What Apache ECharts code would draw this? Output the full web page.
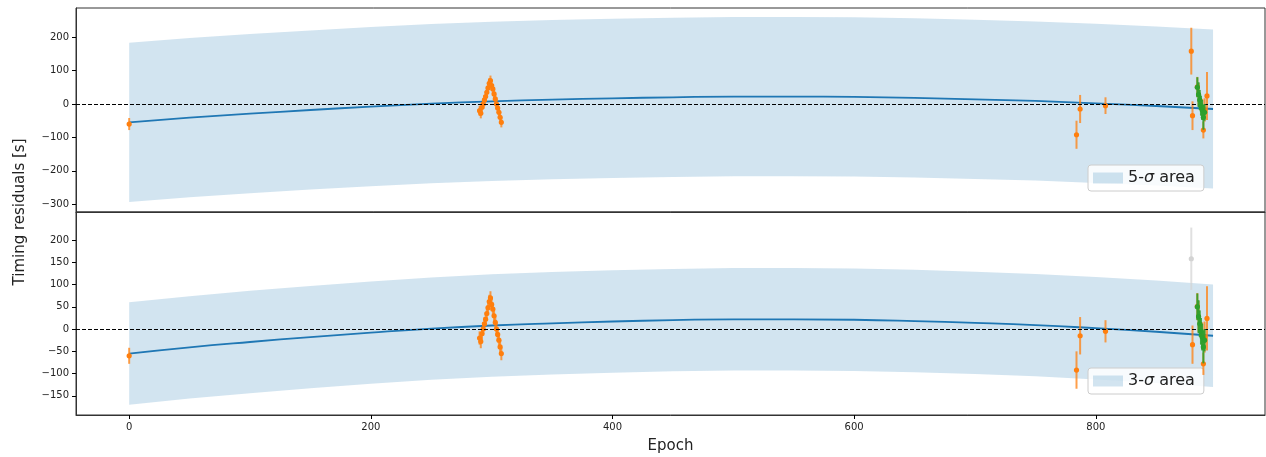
<!DOCTYPE html>
<html>
<head>
<meta charset="utf-8">
<script src="https://cdn.jsdelivr.net/npm/echarts@6/dist/echarts.min.js"></script>
<style>
  html, body { margin: 0; padding: 0; background: #fff; }
  #chart { width: 1266px; height: 457px; }
</style>
</head>
<body>
<div id="chart"></div>
<script>
// model curve + shaded bands
const modelEpochs = [0, 50, 100, 150, 200, 250, 300, 350, 400, 450, 500, 550, 600, 650, 700, 750, 800, 850, 897];
const modelRes = [-55, -41, -29, -18, -8, 1, 8, 13, 17, 20, 22, 22, 21, 18, 14, 9, 2, -6, -15];
const upper5 = [183, 197, 209, 220, 230, 239, 246, 251, 255, 258, 260, 260, 259, 256, 252, 247, 240, 232, 223];
const lower5 = [-293, -279, -267, -256, -246, -237, -230, -225, -221, -218, -216, -216, -217, -220, -224, -229, -236, -244, -253];
const upper3 = [60, 74, 86, 97, 107, 116, 123, 128, 132, 135, 137, 137, 136, 133, 129, 124, 117, 109, 100];
const lower3 = [-170, -156, -144, -133, -123, -114, -107, -102, -98, -95, -93, -93, -94, -97, -101, -106, -113, -121, -130];

// observed transits (orange)
const obsEpochs = [0, 290, 291, 292, 293, 294, 295, 296, 297, 298, 299, 300, 301, 302, 303, 304, 305, 306, 307, 308, 784, 787, 808, 880, 884, 885, 888, 889, 890, 892];
const obsRes = [-60, -20, -28, -10, 0, 12, 22, 35, 48, 62, 70, 55, 45, 30, 15, 0, -12, -25, -40, -55, -92, -15, -5, -35, 51, 28, -15, -78, -18, 24];
const obsErr = [18, 15, 15, 15, 15, 15, 15, 15, 15, 15, 15, 15, 15, 15, 15, 15, 15, 15, 15, 15, 42, 42, 25, 43, 30, 35, 30, 25, 35, 72];

// outlier (orange on top, grey below)
const outEpochs = [879];
const outRes = [158];
const outErr = [70];

// second data set (green)
const greenEpochs = [884, 885, 886, 887, 888, 889, 890];
const greenRes = [50, 28, 12, -5, -18, -40, -25];
const greenErr = [30, 37, 30, 30, 30, 37, 25];

const xTicks = [0, 200, 400, 600, 800];
const yTicksTop = [-300, -200, -100, 0, 100, 200];
const yTicksBottom = [-150, -100, -50, 0, 50, 100, 150, 200];

const FONT = 'DejaVu Sans';
const BAND = 'rgba(31,119,180,0.2)';
const ORANGE = '#ff7f0e';
const GREEN = '#2ca02c';
const BLUE = '#1f77b4';

const zip = (a, b, c) => a.map((v, i) => c ? [v, b[i], c[i]] : [v, b[i]]);
const minus = v => (v < 0 ? '\u2212' + (-v) : String(v));

function errBars(color, barOpacity) {
  return function (params, api) {
    const x = api.value(0), y = api.value(1), e = api.value(2);
    const hi = api.coord([x, y + e]);
    const lo = api.coord([x, y - e]);
    const mid = api.coord([x, y]);
    return {
      type: 'group',
      children: [
        {type: 'line', shape: {x1: hi[0], y1: hi[1], x2: lo[0], y2: lo[1]},
          style: {stroke: color, lineWidth: 2, opacity: barOpacity}},
        {type: 'circle', shape: {cx: mid[0], cy: mid[1], r: 2.6}, style: {fill: color}}
      ]
    };
  };
}

function band(upper, lower) {
  return function (params, api) {
    const pts = [];
    modelEpochs.forEach((e, i) => pts.push(api.coord([e, upper[i]])));
    for (let i = modelEpochs.length - 1; i >= 0; i--) pts.push(api.coord([modelEpochs[i], lower[i]]));
    return {type: 'polygon', shape: {points: pts}, style: {fill: BAND}};
  };
}

function xAxis(idx, labels) {
  return {
    type: 'value', gridIndex: idx, min: -44, max: 940,
    splitLine: {show: false},
    axisLine: {show: true, onZero: false, lineStyle: {color: '#333'}},
    axisTick: {show: labels, inside: false, length: 4, customValues: xTicks, lineStyle: {color: '#000', width: 1}},
    axisLabel: {show: labels, customValues: xTicks, margin: 7, fontFamily: FONT, fontSize: 10, color: '#222'},
    name: labels ? 'Epoch' : '',
    nameLocation: 'middle', nameGap: 24,
    nameTextStyle: {fontFamily: FONT, fontSize: 15, color: '#222'}
  };
}

function yAxis(idx, min, max, ticks) {
  return {
    type: 'value', gridIndex: idx, min: min, max: max,
    splitLine: {show: false},
    axisLine: {show: true, onZero: false, lineStyle: {color: '#333'}},
    axisTick: {show: true, inside: false, length: 4, customValues: ticks, lineStyle: {color: '#000', width: 1}},
    axisLabel: {customValues: ticks, margin: 7, fontFamily: FONT, fontSize: 10, color: '#222', formatter: minus}
  };
}

function legend(name, top) {
  return {
    data: [{name: name, itemStyle: {color: BAND}}],
    left: 1088, top: top,
    icon: 'rect', itemWidth: 30, itemHeight: 11,
    padding: [5, 9, 5, 5],
    backgroundColor: 'rgba(255,255,255,0.85)',
    borderColor: '#ccc', borderWidth: 1, borderRadius: 3,
    selectedMode: false,
    formatter: n => n.replace('σ', '{i|σ}'),
    textStyle: {
      fontFamily: FONT, fontSize: 16, color: '#222',
      rich: {i: {fontFamily: FONT, fontSize: 16, fontStyle: 'italic', color: '#222'}}
    }
  };
}

function panel(idx, bandName, upper, lower, withOutlier) {
  const s = [
    {name: bandName, type: 'custom', xAxisIndex: idx, yAxisIndex: idx, data: [[0, 0]],
      itemStyle: {color: BAND}, renderItem: band(upper, lower), silent: true, z: 1},
    {type: 'line', xAxisIndex: idx, yAxisIndex: idx, data: zip(modelEpochs, modelRes),
      smooth: true, showSymbol: false, lineStyle: {color: BLUE, width: 1.8}, z: 3,
      markLine: {silent: true, symbol: 'none', label: {show: false},
        lineStyle: {color: '#000', width: 1, type: [4, 2]}, data: [{yAxis: 0}]}},
    {type: 'custom', xAxisIndex: idx, yAxisIndex: idx, renderItem: errBars(ORANGE, 0.75),
      data: zip(obsEpochs, obsRes, obsErr).concat(withOutlier ? zip(outEpochs, outRes, outErr) : []), z: 4},
    {type: 'custom', xAxisIndex: idx, yAxisIndex: idx, renderItem: errBars(GREEN, 0.9),
      data: zip(greenEpochs, greenRes, greenErr), z: 5}
  ];
  if (!withOutlier) {
    s.push({type: 'custom', xAxisIndex: idx, yAxisIndex: idx, renderItem: errBars('#d3d3d3', 0.7),
      data: zip(outEpochs, outRes, outErr), z: 4});
  }
  return s;
}

const chart = echarts.init(document.getElementById('chart'));
chart.setOption({
  animation: false,
  grid: [
    {left: 76, right: 1, top: 8, height: 204, show: true, borderColor: '#333', borderWidth: 1},
    {left: 76, right: 1, top: 212, height: 203, show: true, borderColor: '#333', borderWidth: 1}
  ],
  xAxis: [xAxis(0, false), xAxis(1, true)],
  yAxis: [yAxis(0, -323, 287, yTicksTop), yAxis(1, -193, 263, yTicksBottom)],
  legend: [legend('5-σ area', 165), legend('3-σ area', 368)],
  graphic: [{
    type: 'text', x: 20, y: 212, rotation: Math.PI / 2,
    style: {text: 'Timing residuals [s]', font: '15px "DejaVu Sans"', fill: '#222',
      textAlign: 'center', textVerticalAlign: 'middle'}
  }],
  series: panel(0, '5-σ area', upper5, lower5, true).concat(panel(1, '3-σ area', upper3, lower3, false))
});
</script>
</body>
</html>
